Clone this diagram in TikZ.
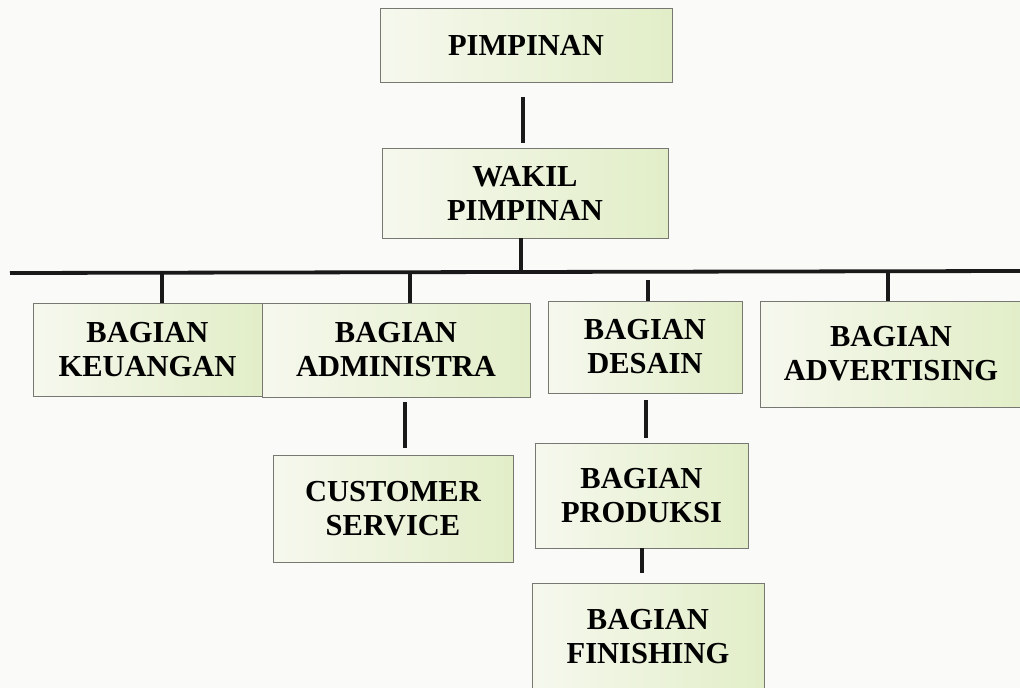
\documentclass[tikz,border=0pt]{standalone}
\usepackage{fontspec}
\setmainfont{Liberation Serif}
\usetikzlibrary{positioning,calc}
\definecolor{boxL}{RGB}{246,248,238}
\definecolor{boxR}{RGB}{226,238,200}
\definecolor{boxline}{RGB}{120,120,115}
\definecolor{paper}{RGB}{250,250,248}
\tikzset{
  orgbox/.style={draw=boxline, line width=0.9pt, left color=boxL, right color=boxR,
    align=center, inner sep=0pt, font=\bfseries\fontsize{30.5}{34}\selectfont},
  conn/.style={line width=3.8pt, draw=black!90}
}
\begin{document}
\begin{tikzpicture}[x=1pt,y=-1pt]
\fill[paper] (0,0) rectangle (1020,688);
\useasboundingbox (0,0) rectangle (1020,688);
% boxes
\node[orgbox, minimum width=292pt, minimum height=74pt] (p) at (526,45) {PIMPINAN};
\node[orgbox, minimum width=286pt, minimum height=90pt] (w) at (525,193) {WAKIL\\PIMPINAN};
\node[orgbox, minimum width=229pt, minimum height=93pt] (k) at (147.5,350) {BAGIAN\\KEUANGAN};
\node[orgbox, minimum width=268pt, minimum height=94pt] (a) at (396,350) {BAGIAN\\ADMINISTRA};
\node[orgbox, minimum width=194pt, minimum height=92pt] (d) at (645,347) {BAGIAN\\DESAIN};
\node[orgbox, minimum width=262pt, minimum height=106pt] (v) at (891,354) {BAGIAN\\ADVERTISING};
\node[orgbox, minimum width=240pt, minimum height=107pt] (c) at (393,508.5) {CUSTOMER\\SERVICE};
\node[orgbox, minimum width=213pt, minimum height=105pt] (r) at (641.5,495.5) {BAGIAN\\PRODUKSI};
\node[orgbox, minimum width=232pt, minimum height=108pt] (f) at (648,637) {BAGIAN\\FINISHING};
% bar
\coordinate (barL) at (10,273);
\coordinate (barR) at (1020,271);
\draw[conn] (barL) -- (barR);
% connectors
\draw[conn, shorten <=15pt, shorten >=5pt] ([xshift=-3pt]p.south) -- ([xshift=-2pt]w.north);
\draw[conn] ([xshift=-4pt]w.south) -- ([xshift=-4pt]w.south |- barL);
\draw[conn] (k.north -| 162,0) -- (162,273);
\draw[conn] (a.north -| 410,0) -- (410,273);
\draw[conn] (d.north -| 648,0) -- (648,280);
\draw[conn] (v.north -| 888,0) -- (888,272);
\draw[conn, shorten <=5pt, shorten >=7pt] (a.south -| 405,0) -- (c.north -| 405,0);
\draw[conn, shorten <=7pt, shorten >=5pt] (d.south -| 646,0) -- (r.north -| 646,0);
\draw[conn, shorten >=10pt] (r.south -| 642,0) -- (f.north -| 642,0);
\end{tikzpicture}
\end{document}
